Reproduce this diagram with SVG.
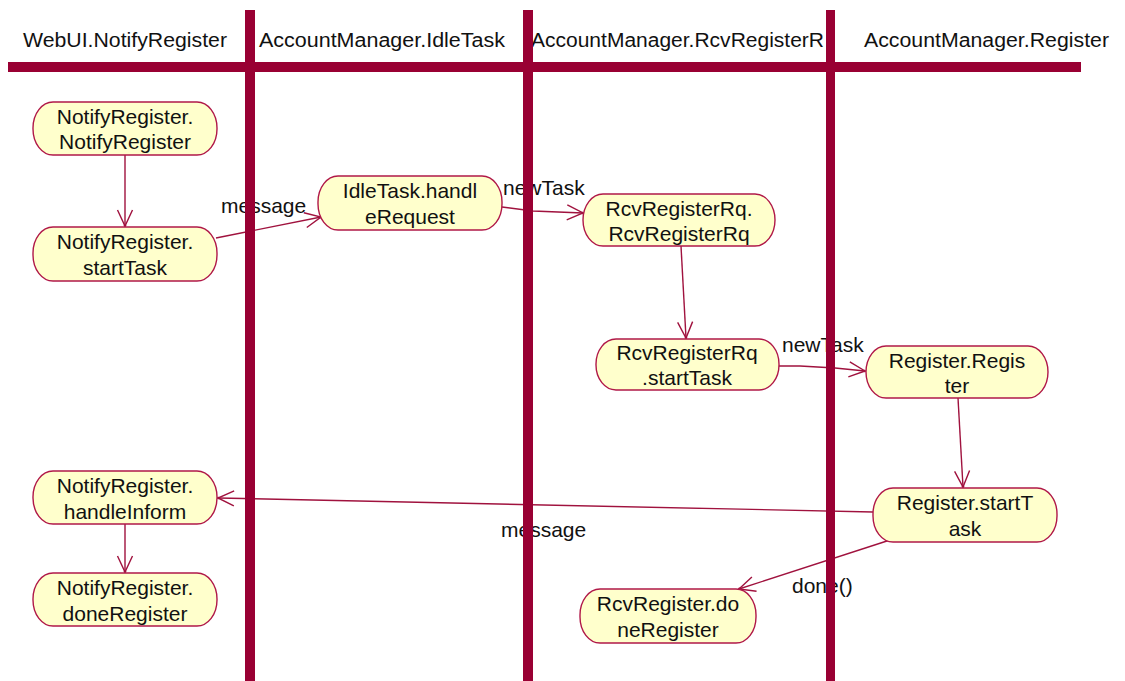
<svg xmlns="http://www.w3.org/2000/svg" width="1125" height="681" viewBox="0 0 1125 681">
  <style>
    text { font-family: "Liberation Sans", Arial, sans-serif; fill: #111; }
    .hdr { font-size: 20px; }
    .lbl { font-size: 21px; }
    .nt { font-size: 21px; text-anchor: middle; }
    .act { fill: #ffffcc; stroke: #b01848; stroke-width: 1.4; }
    .lane { fill: #990033; }
    .edge { fill: none; stroke: #a0123e; stroke-width: 1.4; }
  </style>
  <defs>
    <marker id="open" viewBox="-18 -10 20 20" refX="0" refY="0" markerWidth="20" markerHeight="20" markerUnits="userSpaceOnUse" orient="auto">
      <path d="M-16,-7.5 L0,0 L-16,7.5" fill="none" stroke="#a0123e" stroke-width="1.4"/>
      <circle cx="-0.5" cy="0" r="1.3" fill="#a0123e"/>
    </marker>
  </defs>

  <rect width="1125" height="681" fill="#ffffff"/>

  <!-- swimlane titles -->
  <g id="titles">
    <text class="hdr" x="23" y="47" textLength="204" lengthAdjust="spacingAndGlyphs">WebUI.NotifyRegister</text>
    <text class="hdr" x="259" y="47" textLength="246" lengthAdjust="spacingAndGlyphs">AccountManager.IdleTask</text>
    <text class="hdr" x="531" y="47" textLength="293" lengthAdjust="spacingAndGlyphs">AccountManager.RcvRegisterR</text>
    <text class="hdr" x="864" y="47" textLength="245" lengthAdjust="spacingAndGlyphs">AccountManager.Register</text>
  </g>

  <!-- transitions -->
  <g id="connectors">
    <path class="edge" d="M125,155 L125,226" marker-end="url(#open)"/>
    <path class="edge" d="M216,238 L321,217" marker-end="url(#open)"/>
    <path class="edge" d="M502,207 L533,211 L583,213" marker-end="url(#open)"/>
    <path class="edge" d="M681,246 L686,338" marker-end="url(#open)"/>
    <path class="edge" d="M779,366 L800,366 L835,368 L865,371" marker-end="url(#open)"/>
    <path class="edge" d="M958,398 L963,487" marker-end="url(#open)"/>
    <path class="edge" d="M873,512 L218,498" marker-end="url(#open)"/>
    <path class="edge" d="M125,524 L125,572" marker-end="url(#open)"/>
    <path class="edge" d="M890,540 L739,589" marker-end="url(#open)"/>
    <text class="lbl" x="221" y="213">message</text>
    <text class="lbl" x="503" y="195">newTask</text>
    <text class="lbl" x="782" y="352">newTask</text>
    <text class="lbl" x="501" y="537">message</text>
    <text class="lbl" x="792" y="593">done()</text>
  </g>

  <!-- swimlane partitions -->
  <g id="lanes">
    <rect class="lane" x="8" y="62" width="1073" height="10"/>
    <rect class="lane" x="245" y="10" width="10" height="671"/>
    <rect class="lane" x="523" y="10" width="10" height="671"/>
    <rect class="lane" x="826" y="10" width="9" height="671"/>
  </g>

  <!-- activity states -->
  <g id="notify-notifyregister">
    <rect class="act" x="33" y="102" width="184" height="53" rx="20" ry="26"/>
    <text class="nt" x="125" y="124">NotifyRegister.</text>
    <text class="nt" x="125" y="149">NotifyRegister</text>
  </g>
  <g id="notify-starttask">
    <rect class="act" x="33" y="227" width="184" height="54" rx="20" ry="26"/>
    <text class="nt" x="125" y="249">NotifyRegister.</text>
    <text class="nt" x="125" y="275">startTask</text>
  </g>
  <g id="idletask-handlerequest">
    <rect class="act" x="318" y="176" width="184" height="54" rx="20" ry="26"/>
    <text class="nt" x="410" y="198">IdleTask.handl</text>
    <text class="nt" x="410" y="224">eRequest</text>
  </g>
  <g id="rcvregisterrq-ctor">
    <rect class="act" x="583" y="194" width="192" height="52" rx="20" ry="26"/>
    <text class="nt" x="679" y="216">RcvRegisterRq.</text>
    <text class="nt" x="679" y="241">RcvRegisterRq</text>
  </g>
  <g id="rcvregisterrq-starttask">
    <rect class="act" x="596" y="339" width="183" height="51" rx="20" ry="25"/>
    <text class="nt" x="687" y="360">RcvRegisterRq</text>
    <text class="nt" x="687" y="385">.startTask</text>
  </g>
  <g id="register-ctor">
    <rect class="act" x="866" y="346" width="182" height="52" rx="20" ry="26"/>
    <text class="nt" x="957" y="368">Register.Regis</text>
    <text class="nt" x="957" y="393">ter</text>
  </g>
  <g id="register-starttask">
    <rect class="act" x="873" y="488" width="184" height="54" rx="20" ry="26"/>
    <text class="nt" x="965" y="510">Register.startT</text>
    <text class="nt" x="965" y="536">ask</text>
  </g>
  <g id="notify-handleinform">
    <rect class="act" x="33" y="471" width="184" height="53" rx="20" ry="26"/>
    <text class="nt" x="125" y="493">NotifyRegister.</text>
    <text class="nt" x="125" y="519">handleInform</text>
  </g>
  <g id="notify-doneregister">
    <rect class="act" x="33" y="573" width="184" height="53" rx="20" ry="26"/>
    <text class="nt" x="125" y="595">NotifyRegister.</text>
    <text class="nt" x="125" y="621">doneRegister</text>
  </g>
  <g id="rcvregister-doneregister">
    <rect class="act" x="580" y="589" width="176" height="54" rx="20" ry="26"/>
    <text class="nt" x="668" y="611">RcvRegister.do</text>
    <text class="nt" x="668" y="637">neRegister</text>
  </g>
</svg>
